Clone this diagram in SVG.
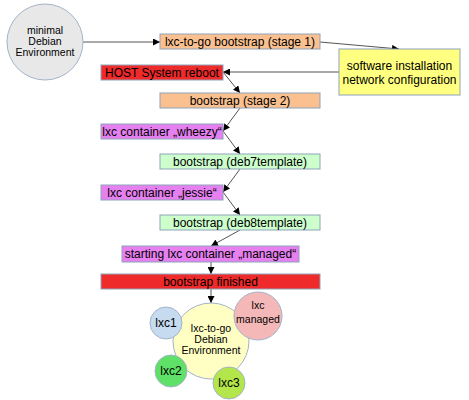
<svg xmlns="http://www.w3.org/2000/svg" width="469" height="400" viewBox="0 0 469 400">
<style>
text{font-family:"Liberation Sans",Arial,sans-serif;fill:#000;text-anchor:middle}
.t{font-size:12px}
.s{font-size:10.5px}
.b{stroke:#8fa3ba;stroke-width:1}
.or{fill:#fac090}
.rd{fill:#ee2a2a}
.mg{fill:#e680f0}
.gr{fill:#ccffcc}
.c line,.c path{stroke:#555;stroke-width:1;fill:none}
</style>
<defs>
<marker id="ah" viewBox="0 0 10 10" refX="10" refY="5" markerWidth="7" markerHeight="7" markerUnits="userSpaceOnUse" orient="auto">
<path d="M0,0 L10,5 L0,10 z" fill="#000"/>
</marker>
</defs>
<rect width="469" height="400" fill="#fff"/>
<g class="c" marker-end="url(#ah)">
<line x1="83" y1="42" x2="160" y2="42" marker-end="url(#ah)"/>
<line x1="320" y1="42" x2="399" y2="49" marker-end="url(#ah)"/>
<line x1="339" y1="72" x2="223" y2="72" marker-end="url(#ah)"/>
<line x1="223" y1="72" x2="240" y2="93" marker-end="url(#ah)"/>
<line x1="240" y1="108" x2="223" y2="131" marker-end="url(#ah)"/>
<line x1="223" y1="131" x2="240" y2="154" marker-end="url(#ah)"/>
<line x1="240" y1="169" x2="223" y2="192" marker-end="url(#ah)"/>
<line x1="223" y1="192" x2="240" y2="215" marker-end="url(#ah)"/>
<line x1="240" y1="230" x2="211" y2="246" marker-end="url(#ah)"/>
<line x1="211" y1="262" x2="211" y2="274" marker-end="url(#ah)"/>
<line x1="211" y1="289" x2="211" y2="303" marker-end="url(#ah)"/>
</g>
<g id="minimal">
<circle cx="45" cy="42" r="38" fill="#e8e8e8" stroke="#a3b3c7"/>
<text class="s" x="45" y="34">minimal</text>
<text class="s" x="45" y="45">Debian</text>
<text class="s" x="45" y="56">Environment</text>
</g>
<g id="stage1">
<rect class="b or" x="160" y="34" width="160" height="15"/>
<text class="t" x="240" y="46">lxc-to-go bootstrap (stage 1)</text>
</g>
<g id="software">
<rect x="339" y="49" width="121" height="46" fill="#ffff80" stroke="#8fa3ba"/>
<text class="t" x="399.5" y="70">software installation</text>
<text class="t" x="399.5" y="84">network configuration</text>
</g>
<g id="reboot">
<rect class="b rd" x="101" y="65" width="122" height="15"/>
<text class="t" x="162" y="77">HOST System reboot</text>
</g>
<g id="stage2">
<rect class="b or" x="160" y="93" width="160" height="15"/>
<text class="t" x="240" y="105">bootstrap (stage 2)</text>
</g>
<g id="wheezy">
<rect class="b mg" x="101" y="124" width="122" height="15"/>
<text class="t" x="162" y="136">lxc container „wheezy“</text>
</g>
<g id="deb7">
<rect class="b gr" x="160" y="154" width="160" height="15"/>
<text class="t" x="240" y="166">bootstrap (deb7template)</text>
</g>
<g id="jessie">
<rect class="b mg" x="101" y="185" width="122" height="15"/>
<text class="t" x="162" y="197">lxc container „jessie“</text>
</g>
<g id="deb8">
<rect class="b gr" x="160" y="215" width="160" height="15"/>
<text class="t" x="240" y="227">bootstrap (deb8template)</text>
</g>
<g id="managed-start">
<rect class="b mg" x="122" y="246" width="177" height="16"/>
<text class="t" x="210.5" y="258">starting lxc container „managed“</text>
</g>
<g id="finished">
<rect class="b rd" x="101" y="274" width="219" height="15"/>
<text class="t" x="210.5" y="286">bootstrap finished</text>
</g>
<g id="env">
<circle cx="211" cy="341" r="38" fill="#ffffc4" stroke="#a3b3c7"/>
<text class="s" x="211" y="332">lxc-to-go</text>
<text class="s" x="211" y="343">Debian</text>
<text class="s" x="211" y="354">Environment</text>
</g>
<g id="lxc1">
<circle cx="166" cy="323" r="16" fill="#c6dbef" stroke="#a3b3c7"/>
<text class="t" x="166" y="327">lxc1</text>
</g>
<g id="lxcmanaged">
<circle cx="258" cy="316" r="24" fill="#f4b8b8" stroke="#a3b3c7"/>
<text class="s" x="258" y="309">lxc</text>
<text class="s" x="258" y="323">managed</text>
</g>
<g id="lxc2">
<circle cx="171" cy="371" r="16" fill="#5fe066" stroke="#a3b3c7"/>
<text class="t" x="171" y="375">lxc2</text>
</g>
<g id="lxc3">
<circle cx="229" cy="383" r="16" fill="#b3e64a" stroke="#a3b3c7"/>
<text class="t" x="229" y="387">lxc3</text>
</g>
</svg>
